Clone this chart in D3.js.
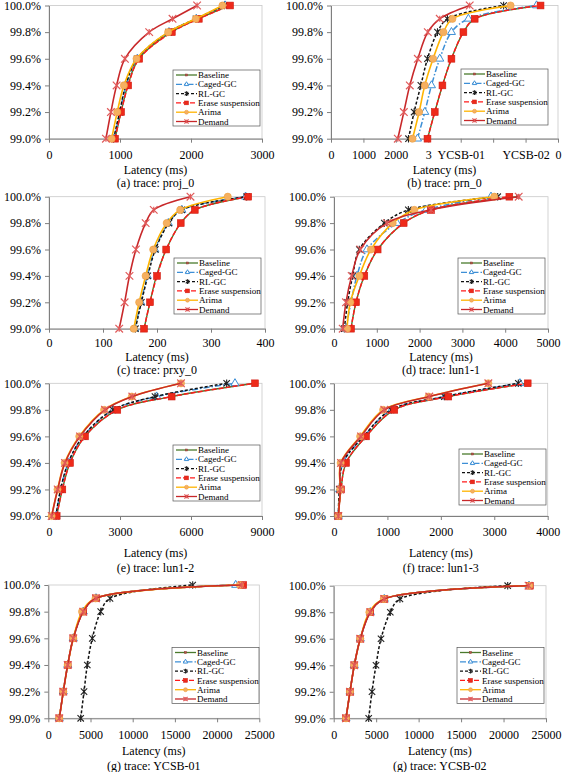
<!DOCTYPE html>
<html><head><meta charset="utf-8">
<script src="https://cdn.jsdelivr.net/npm/d3@7"></script>
<style>body{margin:0;background:#fff}svg{display:block;font-family:"Liberation Serif","Times New Roman",serif}</style>
</head><body><svg id="c" width="562" height="772"></svg>
<script>
// ---------- data ----------
const seriesNames = ["Baseline", "Caged-GC", "RL-GC", "Erase suspension", "Arima", "Demand"];
const percentiles = [99.0, 99.2, 99.4, 99.6, 99.8, 99.9, 100.0];
const yTicks = [99.0, 99.2, 99.4, 99.6, 99.8, 100.0];

// latency (ms) per series, in seriesNames order, at each percentile
const proj0 = [
  [930, 1015, 1110, 1265, 1720, 2100, 2540],
  [915, 1000, 1085, 1245, 1690, 2075, 2480],
  [910, 995, 1080, 1240, 1685, 2070, 2470],
  [930, 1015, 1115, 1270, 1730, 2110, 2550],
  [882, 961, 1055, 1233, 1678, 2068, 2443],
  [802, 872, 952, 1069, 1411, 1740, 2086]
];
const prn0 = [
  [2975, 3200, 3436, 3714, 4083, 4431, 6462],
  [2667, 2892, 3098, 3354, 3714, 4237, 6338],
  [2390, 2563, 2770, 2975, 3283, 3590, 5323],
  [2975, 3200, 3436, 3714, 4083, 4431, 6462],
  [2513, 2717, 2892, 3148, 3467, 3744, 5538],
  [2060, 2246, 2430, 2677, 2985, 3354, 4277]
];
const prxy0 = [
  [176, 187, 199, 217, 244, 270, 368],
  [159, 170, 182, 196, 221, 246, 364],
  [160, 171, 183, 197, 222, 246, 366],
  [176, 187, 200, 217, 244, 270, 369],
  [157, 167, 179, 193, 218, 243, 331],
  [130, 140, 149, 161, 179, 194, 262]
];
const lun11 = [
  [397, 514, 709, 1020, 1628, 2266, 4300],
  [280, 397, 537, 771, 1472, 2150, 3668],
  [241, 319, 436, 592, 1176, 1737, 3825],
  [397, 514, 709, 1020, 1628, 2266, 4097],
  [304, 381, 592, 864, 1371, 1877, 3745],
  [203, 280, 413, 615, 1238, 2266, 4315]
];
const lun12 = [
  [325, 564, 887, 1521, 2887, 5183, 8703],
  [296, 494, 816, 1450, 2718, 4550, 7858],
  [290, 490, 810, 1440, 2700, 4478, 7507],
  [325, 564, 887, 1521, 2887, 5183, 8703],
  [110, 360, 660, 1280, 2330, 3500, 5577],
  [114, 367, 676, 1310, 2366, 3520, 5577]
];
const lun13 = [
  [81, 131, 225, 599, 1129, 2140, 3626],
  [81, 105, 170, 560, 1075, 2080, 3480],
  [81, 100, 162, 555, 1067, 2065, 3450],
  [81, 131, 225, 599, 1129, 2140, 3626],
  [81, 115, 125, 490, 920, 1770, 2889],
  [81, 118, 131, 505, 942, 1784, 2889]
];
const ycsb01 = [
  [1303, 1777, 2299, 2962, 4147, 5652, 23000],
  [1303, 1777, 2299, 2962, 4147, 5652, 22200],
  [3839, 4230, 4621, 5213, 6209, 7310, 17109],
  [1303, 1777, 2299, 2962, 4147, 5652, 23100],
  [1303, 1777, 2299, 2962, 4000, 5600, 22700],
  [1303, 1777, 2299, 2962, 4147, 5652, 22915]
];
const ycsb02 = [
  [1448, 1919, 2426, 3133, 4310, 5958, 23034],
  [1448, 1919, 2426, 3133, 4310, 5958, 23000],
  [4121, 4510, 4981, 5570, 6665, 7800, 20490],
  [1448, 1919, 2426, 3133, 4310, 5958, 23100],
  [1448, 1919, 2426, 3133, 4200, 5900, 23034],
  [1448, 1919, 2426, 3133, 4310, 5958, 22950]
];

const titles = ["(a) trace: proj_0", "(b) trace: prn_0", "(c) trace: prxy_0", "(d) trace: lun1-1",
                "(e) trace: lun1-2", "(f) trace: lun1-3", "(g) trace: YCSB-01", "(g) trace: YCSB-02"];
const xTickSets = [
  [0, 1000, 2000, 3000],
  [0, 1000, 2000, 3000, 4000, 5000, 6000, 7000],
  [0, 100, 200, 300, 400],
  [0, 1000, 2000, 3000, 4000, 5000],
  [0, 3000, 6000, 9000],
  [0, 1000, 2000, 3000, 4000],
  [0, 5000, 10000, 15000, 20000, 25000],
  [0, 5000, 10000, 15000, 20000, 25000]
];
const prnTickLabels = ["0", "1000", "2000", "3", "YCSB-01", "", "YCSB-02", "0"];
const axisTitle = "Latency (ms)";

// ---------- layout ----------
const layouts = [
  {data: proj0,  x0: 49,    x1: 262,   yT: 5.5,   yB: 138.7, lg: [173, 70],    ty: [155, 170.2, 182.7]},
  {data: prn0,   x0: 331,   x1: 558,   yT: 5.5,   yB: 138.7, lg: [461, 69],    ty: [155, 170.2, 182.7], labels: prnTickLabels},
  {data: prxy0,  x0: 49,    x1: 265,   yT: 196.7, yB: 328.7, lg: [174, 258],   ty: [343, 356.3, 370]},
  {data: lun11,  x0: 334,   x1: 548,   yT: 196.7, yB: 328.7, lg: [458, 258],   ty: [343, 356.3, 370]},
  {data: lun12,  x0: 49,    x1: 262,   yT: 383.3, yB: 516,   lg: [173, 445],   ty: [531.7, 552.3, 567.7]},
  {data: lun13,  x0: 334,   x1: 547.7, yT: 383.3, yB: 516,   lg: [459, 449],   ty: [531.7, 552.3, 567.7]},
  {data: ycsb01, x0: 48.3,  x1: 259.3, yT: 585,   yB: 718.3, lg: [172, 647.5], ty: [735, 750.7, 765.7]},
  {data: ycsb02, x0: 333.7, x1: 546,   yT: 585.7, yB: 718.3, lg: [457, 647.5], ty: [735, 750.7, 765.7]}
];

const styles = [
  {color: "#4a7a2c", dash: null,        width: 1.4, marker: "smallsq", mfill: "#b5584c", mstroke: "#8a3a30"},
  {color: "#3d8fd6", dash: "6,2,1.5,2", width: 1.5, marker: "tri",     mfill: "#ffffff", mstroke: "#3d8fd6"},
  {color: "#111111", dash: "3,2",       width: 1.5, marker: "star",    mfill: "none",    mstroke: "#222"},
  {color: "#ff1a1a", dash: "5,2",       width: 1.5, marker: "sq",      mfill: "#ee2a1a", mstroke: "#d01a10"},
  {color: "#ffb400", dash: null,        width: 1.6, marker: "circ",    mfill: "#f5b060", mstroke: "#f0a040"},
  {color: "#c8282a", dash: null,        width: 1.6, marker: "x",       mfill: "none",    mstroke: "#e05a5a"}
];

function drawMarker(sel, type, st, s) {
  if (type === "smallsq") {
    sel.append("rect").attr("x", -1.8 * s).attr("y", -1.8 * s).attr("width", 3.6 * s).attr("height", 3.6 * s)
      .attr("fill", st.mfill).attr("stroke", st.mstroke).attr("stroke-width", 0.5);
  } else if (type === "sq") {
    sel.append("rect").attr("x", -3.4 * s).attr("y", -3.4 * s).attr("width", 6.8 * s).attr("height", 6.8 * s)
      .attr("fill", st.mfill).attr("stroke", st.mstroke).attr("stroke-width", 0.6);
  } else if (type === "tri") {
    sel.append("path").attr("d", d3.symbol(d3.symbolTriangle, 28 * s * s)())
      .attr("fill", st.mfill).attr("stroke", st.mstroke).attr("stroke-width", 1);
  } else if (type === "circ") {
    sel.append("circle").attr("r", 3.6 * s).attr("fill", st.mfill).attr("stroke", st.mstroke).attr("stroke-width", 0.6);
  } else if (type === "star") {
    const r = 3.2 * s;
    sel.append("path").attr("d", `M${-r},${-r}L${r},${r}M${-r},${r}L${r},${-r}M0,${-r - 0.6}L0,${r + 0.6}`)
      .attr("fill", "none").attr("stroke", st.mstroke).attr("stroke-width", 1.1);
  } else if (type === "x") {
    const r = 3.8 * s;
    sel.append("path").attr("d", `M${-r},${-r}L${r},${r}M${-r},${r}L${r},${-r}M0,${-r * 0.8}L0,${r * 0.8}`)
      .attr("fill", "none").attr("stroke", st.mstroke).attr("stroke-width", 1.2);
  }
}

const svg = d3.select("#c");
const fontFam = "Liberation Serif, Times New Roman, serif";

layouts.forEach((p, pi) => {
  const g = svg.append("g");
  const ticks = xTickSets[pi];
  const xMax = ticks[ticks.length - 1];
  const x = d3.scaleLinear().domain([0, xMax]).range([p.x0, p.x1]);
  const y = d3.scaleLinear().domain([99, 100]).range([p.yB, p.yT]);

  g.append("rect").attr("x", p.x0).attr("y", p.yT).attr("width", p.x1 - p.x0).attr("height", p.yB - p.yT)
    .attr("fill", "none").attr("stroke", "#c8c8c8").attr("stroke-width", 0.8);

  const xa = d3.axisBottom(x).tickValues(ticks).tickSize(4).tickSizeOuter(0)
    .tickFormat((d, i) => p.labels ? p.labels[i] : String(d));
  const gx = g.append("g").attr("transform", `translate(0,${p.yB})`).call(xa)
    .attr("font-family", fontFam).attr("font-size", 12);
  gx.selectAll("line, path").attr("stroke", "#7f7f7f");
  gx.selectAll("text").attr("y", 0).attr("dy", "0.35em")
    .attr("transform", `translate(0,${p.ty[0] - p.yB})`).attr("fill", "#000");

  const ya = d3.axisLeft(y).tickValues(yTicks).tickSize(4).tickSizeOuter(0)
    .tickFormat(d => d.toFixed(1) + "%");
  const gy = g.append("g").attr("transform", `translate(${p.x0},0)`).call(ya)
    .attr("font-family", fontFam).attr("font-size", 12);
  gy.selectAll("line, path").attr("stroke", "#7f7f7f");
  gy.selectAll("text").attr("x", -8).attr("fill", "#000");

  const cx = (p.x0 + p.x1) / 2;
  g.append("text").attr("x", cx).attr("y", p.ty[1]).attr("dy", "0.35em").attr("text-anchor", "middle")
    .attr("font-family", fontFam).attr("font-size", 12).text(axisTitle);
  g.append("text").attr("x", cx).attr("y", p.ty[2]).attr("dy", "0.35em").attr("text-anchor", "middle")
    .attr("font-family", fontFam).attr("font-size", 12).text(titles[pi]);

  const line = d3.line().x(d => x(d[0])).y(d => y(d[1])).curve(d3.curveCatmullRom.alpha(0.5));
  p.data.forEach((vals, si) => {
    const st = styles[si];
    const pts = vals.map((v, k) => [v, percentiles[k]]);
    g.append("path").datum(pts).attr("d", line).attr("fill", "none")
      .attr("stroke", st.color).attr("stroke-width", st.width)
      .attr("stroke-dasharray", st.dash);
    pts.forEach(pt => {
      const m = g.append("g").attr("transform", `translate(${x(pt[0])},${y(pt[1])})`);
      drawMarker(m, st.marker, st, 1);
    });
  });

  const [lx, ly] = p.lg;
  const lw = 87, lh = 56, rowH = 9.3;
  const lgG = g.append("g").attr("transform", `translate(${lx},${ly})`);
  lgG.append("rect").attr("width", lw).attr("height", lh).attr("fill", "#fff")
    .attr("stroke", "#555").attr("stroke-width", 0.7);
  seriesNames.forEach((name, si) => {
    const st = styles[si];
    const yy = 5 + si * rowH;
    lgG.append("line").attr("x1", 3).attr("x2", 24).attr("y1", yy).attr("y2", yy)
      .attr("stroke", st.color).attr("stroke-width", 1.3).attr("stroke-dasharray", st.dash);
    const m = lgG.append("g").attr("transform", `translate(13.5,${yy})`);
    drawMarker(m, st.marker, st, 0.55);
    lgG.append("text").attr("x", 25).attr("y", yy).attr("dy", "0.35em")
      .attr("font-family", fontFam).attr("font-size", 9).text(name);
  });
});
</script>
</body></html>
